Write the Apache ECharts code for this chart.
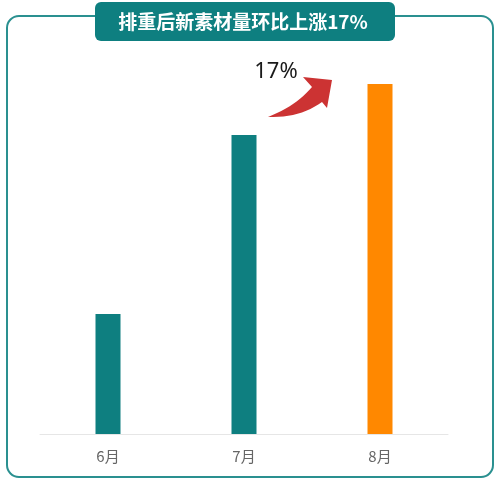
<!DOCTYPE html>
<html>
<head>
<meta charset="utf-8">
<script src="https://cdn.jsdelivr.net/npm/echarts@6/dist/echarts.min.js"></script>
<style>
html,body{margin:0;padding:0;background:#fff;}
#main{width:503px;height:489px;}
</style>
</head>
<body>
<div id="main"></div>
<script>
var titleText = '排重后新素材量环比上涨17%';
var categories = ['6月', '7月', '8月'];
var values = [120, 299, 350];
var barColors = ['#0e7f80', '#0e7f80', '#ff8800'];
var growthLabel = '17%';

function quad(p0, c, p1, n) {
  var pts = [];
  for (var i = 0; i <= n; i++) {
    var t = i / n, u = 1 - t;
    pts.push([u * u * p0[0] + 2 * u * t * c[0] + t * t * p1[0],
              u * u * p0[1] + 2 * u * t * c[1] + t * t * p1[1]]);
  }
  return pts;
}
var arrowPts = [].concat(
  quad([268, 117], [296, 106], [312, 87], 12),
  [[303, 77], [332, 80], [327, 108]],
  quad([322, 102], [300, 118], [268, 117], 12)
);

var chart = echarts.init(document.getElementById('main'));
chart.setOption({
  backgroundColor: '#fff',
  animation: false,
  grid: { left: 40, right: 55, top: 34, bottom: 55 },
  xAxis: {
    type: 'category',
    data: categories,
    axisLine: { lineStyle: { color: '#e6e6e6', width: 1 } },
    axisTick: { show: false },
    axisLabel: { color: '#666666', fontSize: 15, margin: 15, fontFamily: 'Noto Sans CJK SC' }
  },
  yAxis: {
    type: 'value', min: 0, max: 400, show: false
  },
  series: [{
    type: 'bar',
    barWidth: 25,
    data: values.map(function (v, i) { return { value: v, itemStyle: { color: barColors[i] } }; })
  }],
  graphic: [
    {
      type: 'rect', z: 1,
      shape: { x: 7, y: 16, width: 486, height: 461, r: 12 },
      style: { fill: 'none', stroke: '#2a9090', lineWidth: 2 }
    },
    {
      type: 'rect', z: 10,
      shape: { x: 95, y: 2, width: 300, height: 39, r: 6 },
      style: { fill: '#0e7f80' }
    },
    {
      type: 'text', z: 11,
      x: 243, y: 21.5,
      style: {
        text: titleText, fill: '#ffffff', fontSize: 19, fontWeight: 'bold',
        fontFamily: 'Noto Sans CJK SC', align: 'center', verticalAlign: 'middle'
      }
    },
    {
      type: 'polygon', z: 10,
      shape: { points: arrowPts },
      style: { fill: '#cc3333' }
    },
    {
      type: 'text', z: 11,
      x: 276, y: 72,
      style: {
        text: growthLabel, fill: '#1a1a1a', fontSize: 22,
        fontFamily: 'Noto Sans', align: 'center', verticalAlign: 'middle'
      }
    }
  ]
});
</script>
</body>
</html>
